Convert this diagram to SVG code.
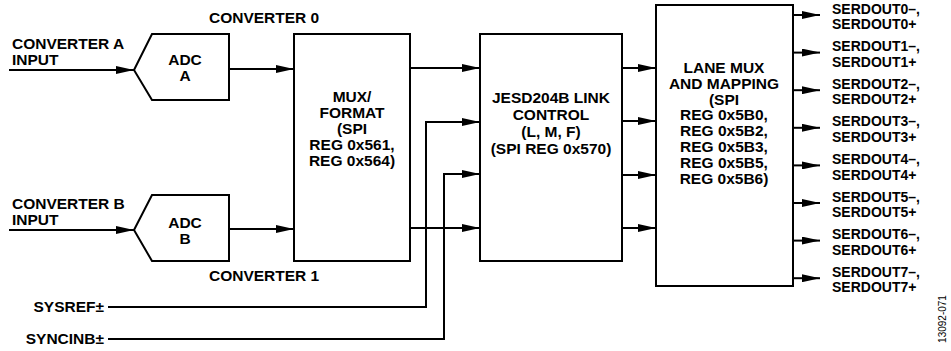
<svg xmlns="http://www.w3.org/2000/svg" width="951" height="351" viewBox="0 0 951 351">
<defs>
<marker id="ah" markerUnits="userSpaceOnUse" markerWidth="18" markerHeight="8" refX="18" refY="4" orient="auto">
<path d="M0,0 L18,4 L0,8 z" fill="#000"/>
</marker>
<style>
text{font-family:"Liberation Sans",Arial,sans-serif;font-weight:bold;font-size:15.5px;fill:#000}
.c{text-anchor:middle}
.r{text-anchor:end}
.s{font-size:14px}
.box{fill:#fff;stroke:#000;stroke-width:2}
.ln{fill:none;stroke:#000;stroke-width:2}
.ar{fill:none;stroke:#000;stroke-width:2;marker-end:url(#ah)}
.fn{font-weight:normal;font-size:10px}
</style>
</defs>
<rect width="951" height="351" fill="#fff"/>

<g id="connectors">
<path class="ar" d="M9,70 H134"/>
<path class="ar" d="M9,230 H134"/>
<path class="ar" d="M229,69 H294"/>
<path class="ar" d="M229,229 H294"/>
<path class="ar" d="M410,68 H480"/>
<path class="ar" d="M410,228 H480"/>
<path class="ar" d="M108,307 H426 V122 H480"/>
<path class="ar" d="M108,339 H444 V174 H480"/>
<path class="ar" d="M622,68 H656"/>
<path class="ar" d="M622,121 H656"/>
<path class="ar" d="M622,175 H656"/>
<path class="ar" d="M622,228 H656"/>
<path class="ar" d="M793,15 H820"/>
<path class="ar" d="M793,52.6 H820"/>
<path class="ar" d="M793,90.2 H820"/>
<path class="ar" d="M793,127.8 H820"/>
<path class="ar" d="M793,165.4 H820"/>
<path class="ar" d="M793,203 H820"/>
<path class="ar" d="M793,240.6 H820"/>
<path class="ar" d="M793,278.2 H820"/>
</g>

<g id="adc-a">
<path class="box" d="M134,70 L152,34 H229 V100 H152 Z"/>
<text class="c" x="185" y="64.5">ADC</text>
<text class="c" x="185" y="80.5">A</text>
</g>
<g id="adc-b">
<path class="box" d="M134,230 L152,195 H229 V261 H152 Z"/>
<text class="c" x="185" y="228">ADC</text>
<text class="c" x="185" y="244">B</text>
</g>
<g id="mux">
<rect class="box" x="294" y="34" width="116" height="227"/>
<text class="c" x="352" y="102">MUX/</text>
<text class="c" x="352" y="118">FORMAT</text>
<text class="c" x="352" y="134">(SPI</text>
<text class="c" x="352" y="150">REG 0x561,</text>
<text class="c" x="352" y="166">REG 0x564)</text>
</g>
<g id="jesd">
<rect class="box" x="480" y="34" width="142" height="227"/>
<text class="c" x="551" y="102.5">JESD204B LINK</text>
<text class="c" x="551" y="120">CONTROL</text>
<text class="c" x="551" y="137">(L, M, F)</text>
<text class="c" x="551" y="154">(SPI REG 0x570)</text>
</g>
<g id="lane">
<rect class="box" x="656" y="5" width="137" height="281"/>
<text class="c" x="724" y="73">LANE MUX</text>
<text class="c" x="724" y="88.8">AND MAPPING</text>
<text class="c" x="724" y="104.6">(SPI</text>
<text class="c" x="724" y="120.4">REG 0x5B0,</text>
<text class="c" x="724" y="136.2">REG 0x5B2,</text>
<text class="c" x="724" y="152">REG 0x5B3,</text>
<text class="c" x="724" y="167.8">REG 0x5B5,</text>
<text class="c" x="724" y="183.6">REG 0x5B6)</text>
</g>

<g id="labels">
<text x="209" y="23">CONVERTER 0</text>
<text x="209" y="280.5">CONVERTER 1</text>
<text x="12" y="49">CONVERTER A</text>
<text x="12" y="64.5">INPUT</text>
<text x="12" y="209">CONVERTER B</text>
<text x="12" y="225">INPUT</text>
<text class="r" x="104" y="312">SYSREF±</text>
<text class="r" x="104" y="344">SYNCINB±</text>
<text class="s" x="832" y="13.5">SERDOUT0–,</text>
<text class="s" x="832" y="29.2">SERDOUT0+</text>
<text class="s" x="832" y="51.1">SERDOUT1–,</text>
<text class="s" x="832" y="66.8">SERDOUT1+</text>
<text class="s" x="832" y="88.7">SERDOUT2–,</text>
<text class="s" x="832" y="104.4">SERDOUT2+</text>
<text class="s" x="832" y="126.3">SERDOUT3–,</text>
<text class="s" x="832" y="142">SERDOUT3+</text>
<text class="s" x="832" y="163.9">SERDOUT4–,</text>
<text class="s" x="832" y="179.6">SERDOUT4+</text>
<text class="s" x="832" y="201.5">SERDOUT5–,</text>
<text class="s" x="832" y="217.2">SERDOUT5+</text>
<text class="s" x="832" y="239.1">SERDOUT6–,</text>
<text class="s" x="832" y="254.8">SERDOUT6+</text>
<text class="s" x="832" y="276.7">SERDOUT7–,</text>
<text class="s" x="832" y="292.4">SERDOUT7+</text>
<text class="c fn" transform="translate(946,319) rotate(-90)">13092-071</text>
</g>
</svg>
